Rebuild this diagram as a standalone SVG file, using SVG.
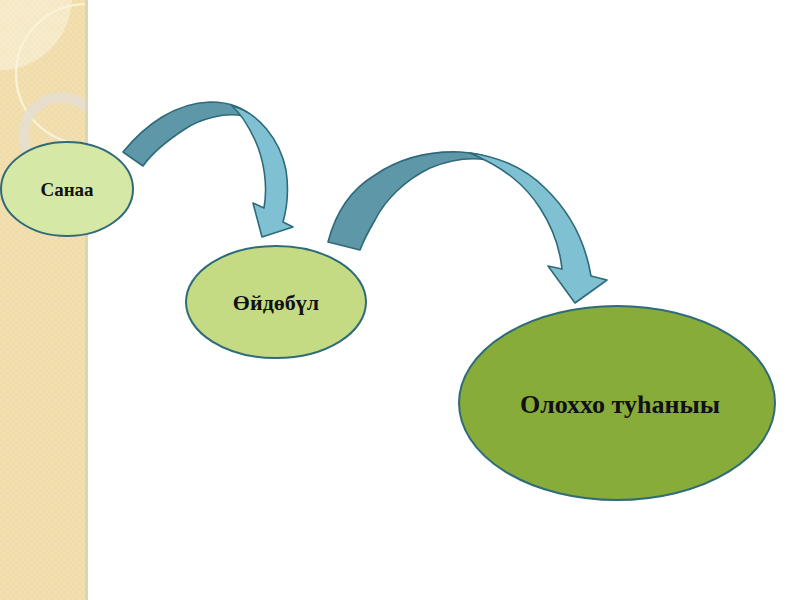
<svg xmlns="http://www.w3.org/2000/svg" width="800" height="600" viewBox="0 0 800 600">
<style>
.node{stroke:#2f6b78;stroke-width:2}
.lbl{font-family:"Liberation Serif","Times New Roman",serif;font-weight:bold;fill:#111;text-anchor:middle}
.adark{fill:#5e98a8;stroke:#2e6a78;stroke-width:1.6;stroke-linejoin:round}
.alight{fill:#7fc1d3;stroke:#2e6a78;stroke-width:1.6;stroke-linejoin:round}
</style>
<defs>
<pattern id="tex" width="6" height="6" patternUnits="userSpaceOnUse">
<rect width="6" height="6" fill="#f2e0b0"/>
<rect width="3" height="3" fill="#efdcaa"/>
<rect x="3" y="3" width="3" height="3" fill="#efdcaa"/>
</pattern>
<clipPath id="strip"><rect x="0" y="0" width="85" height="600"/></clipPath>
</defs>
<rect width="800" height="600" fill="#ffffff"/>
<g id="background">
<rect x="0" y="0" width="85" height="600" fill="url(#tex)"/>
<rect x="85" y="0" width="3" height="600" fill="#ddd5bb"/>
<g clip-path="url(#strip)">
<path d="M0,0 L72,0 C70,35 45,65 8,70 L0,70 Z" fill="#ffffff" opacity="0.35"/>
<circle cx="86" cy="74" r="70" fill="none" stroke="#fbf3d8" stroke-width="2.2"/>
<circle cx="61" cy="135" r="37.5" fill="none" stroke="#e6dfcf" stroke-width="10.5" opacity="0.9"/>
</g>
</g>
<g id="connectors">
<g id="arrow1">
<path class="adark" d="M123,152 C145,125 175,103 210,102 C232,102 247,110 255,120 L243,116 C225,112 200,119 185,129 C165,142 152,153 143,166 Z"/>
<path class="alight" d="M232,106 C258,112 280,140 286,170 C289,190 287,208 283,222 L293,227 L262,237 L253,203 L264,208 C268,185 264,160 255,140 C248,125 240,113 232,106 Z"/>
</g>
<g id="arrow2">
<path class="adark" d="M328,242 C335,215 350,190 375,175 C400,158 430,151 460,152 C475,153 487,156 496,160 L487,160 C470,157 450,160 430,168 C405,180 385,200 375,220 C368,232 363,242 360,250 Z"/>
<path class="alight" d="M470,153 C500,157 525,168 545,188 C570,212 585,240 591,276 L607,280 L575,303 L548,266 L562,269 C560,250 553,228 540,208 C525,185 505,168 470,153 Z"/>
</g>
</g>
<g id="node-sanaa">
<ellipse class="node" cx="67" cy="189" rx="66" ry="47" fill="#d5e8a6"/>
<text class="lbl" x="67" y="196" font-size="19">Санаа</text>
</g>
<g id="node-oidobul">
<ellipse class="node" cx="276" cy="302" rx="90" ry="56" fill="#c4db84"/>
<text class="lbl" x="276" y="310" font-size="22">Өйдөбүл</text>
</g>
<g id="node-olonkho">
<ellipse class="node" cx="617" cy="403" rx="158" ry="97" fill="#87ac39"/>
<text class="lbl" x="620" y="413" font-size="26">Олоххо туһаныы</text>
</g>
</svg>
